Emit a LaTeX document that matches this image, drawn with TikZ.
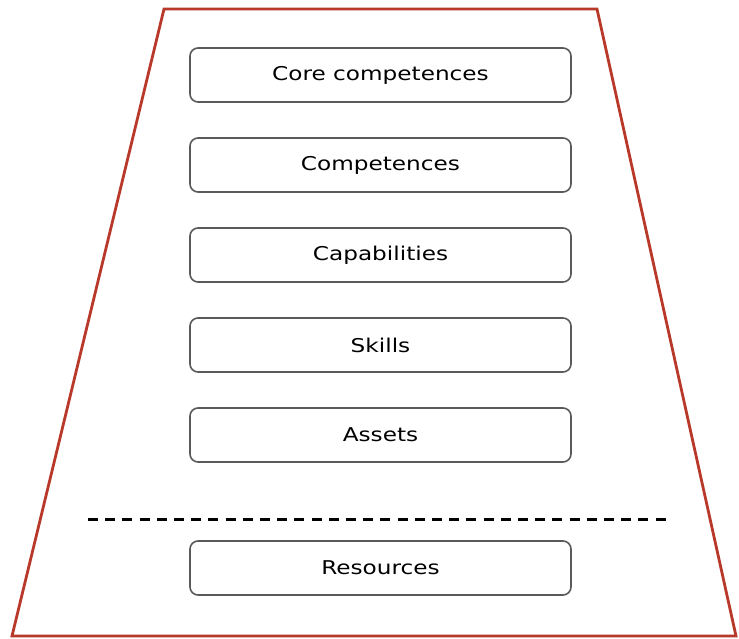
\documentclass[tikz,border=0pt]{standalone}
\usepackage{fontspec}
\setmainfont{DejaVu Sans}
\definecolor{trapred}{HTML}{B8392A}
\definecolor{boxgray}{HTML}{5A5A5A}
\begin{document}
\begin{tikzpicture}[x=1pt,y=-1pt,
  levelbox/.style={draw=boxgray, line width=1.6pt, rounded corners=8pt, minimum width=381pt, minimum height=54pt, inner sep=0pt, fill=white,
    font=\fontsize{19}{22}\selectfont, text=black}]
\useasboundingbox (0,0) rectangle (739,639);
\fill[white] (0,0) rectangle (739,639);
\draw[trapred, line width=2.8pt, line join=miter] (164,9) -- (597,9) -- (736,636) -- (12,636) -- cycle;
\node[levelbox] (core) at (380.5,75) {\scalebox{1.22}[1]{Core competences}};
\node[levelbox] (comp) at (380.5,165) {\scalebox{1.22}[1]{Competences}};
\node[levelbox] (capa) at (380.5,255) {\scalebox{1.22}[1]{Capabilities}};
\node[levelbox] (skil) at (380.5,345) {\scalebox{1.22}[1]{Skills}};
\node[levelbox] (asse) at (380.5,435) {\scalebox{1.22}[1]{Assets}};
\node[levelbox] (reso) at (380.5,568) {\scalebox{1.22}[1]{Resources}};
\coordinate (dl) at (88,519);
\coordinate (dr) at (672,519);
\draw[black, line width=3pt, dash pattern=on 10pt off 7.2pt] (dl) -- (dr);
\end{tikzpicture}
\end{document}
